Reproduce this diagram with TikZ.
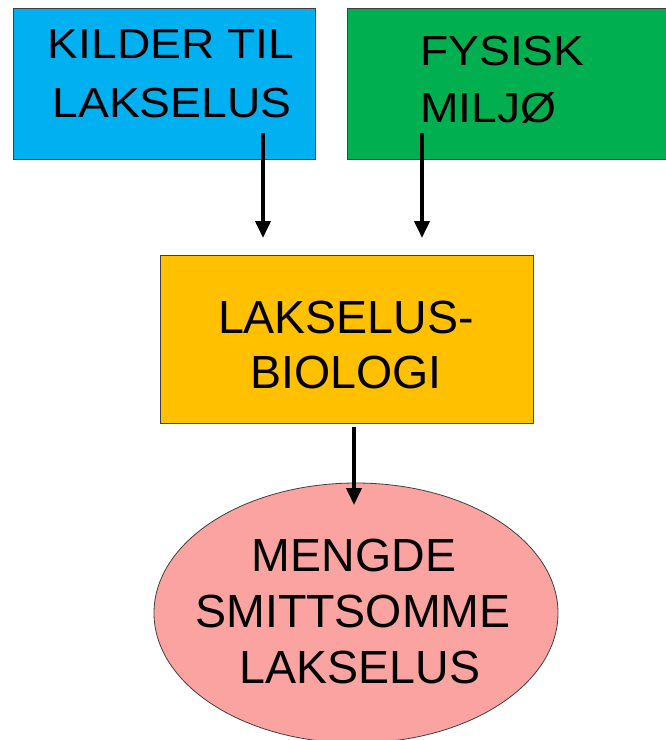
\documentclass[tikz,border=0pt]{standalone}
\usepackage{fontspec}
\setmainfont{Liberation Sans}
\newfontfamily\widefont[FakeStretch=1.1]{Liberation Sans}
\usetikzlibrary{positioning, calc, shapes.geometric, arrows.meta}

\definecolor{kilderblue}{HTML}{00B0F0}
\definecolor{miljogreen}{HTML}{00B050}
\definecolor{bioorange}{HTML}{FFC000}
\definecolor{mengdepink}{HTML}{FAA3A0}

\begin{document}
\begin{tikzpicture}
[
    x=1pt, y=-1pt, auto,
    % Coordinates are pixels of the page, y grows downward.
    % Boxes are named box-k, box-f, box-b and the ellipse box-m
    % Text lines are named T-<box>-<baseline>
]
\useasboundingbox (0,0) rectangle (665,740);

%=================================== Start ===================================
\tikzstyle{box}  = [draw=black!75, line width=0.8pt, shape=rectangle, inner sep=0pt]
\tikzstyle{txt}  = [anchor=base, inner sep=0pt, font=\fontsize{46.5}{56}\selectfont]
\tikzstyle{wtxt} = [anchor=base, inner sep=0pt, font=\fontsize{42}{56}\widefont]
\tikzstyle{arr}  = [-{Triangle[length=17pt, width=15pt]}, line width=3.8pt]

{
    % Draw boxes
    \node[box, fill=kilderblue, minimum width=302pt, minimum height=151pt]
          (box-k) at (164,83.5) {};
    \node[box, fill=miljogreen, minimum width=343pt, minimum height=151pt]
          (box-f) at (518.5,83.5) {};
    \node[box, fill=bioorange, minimum width=373pt, minimum height=168pt]
          (box-b) at (346.5,339) {};
    \node[box, shape=ellipse, fill=mengdepink, minimum width=404pt, minimum height=260pt]
          (box-m) at (356,613) {};

    % Draw text lines
    \foreach \x / \y / \t in {171/58/KILDER TIL, 172/117/LAKSELUS}
        \node[wtxt] (T-k-\y) at (\x,\y) {\t};
    \foreach \y / \t in {65/FYSISK, 122/MILJØ}
        \node[wtxt, anchor=base west] (T-f-\y) at (420,\y) {\t};
    \foreach \y / \t in {333/LAKSELUS-, 388/BIOLOGI}
        \node[txt] (T-b-\y) at (346,\y) {\t};
    \foreach \x / \y / \t in {354/571/MENGDE, 353/627/SMITTSOMME, 360/683/LAKSELUS}
        \node[txt] (T-m-\y) at (\x,\y) {\t};

    % Arrow ends
    \coordinate (A-k) at (263,133);
    \coordinate (A-f) at (422,133);
    \coordinate (A-b) at (354,427);
    \foreach \s in {k, f}
        \coordinate (A-\s-end) at ($(A-\s)+(0,105)$);
    \coordinate (A-b-end) at (354,505);

    % Connect boxes
    \foreach \s in {k, f, b}
        \draw[arr] (A-\s) -- (A-\s-end);
}
%==================================== END ====================================

\end{tikzpicture}
\end{document}
